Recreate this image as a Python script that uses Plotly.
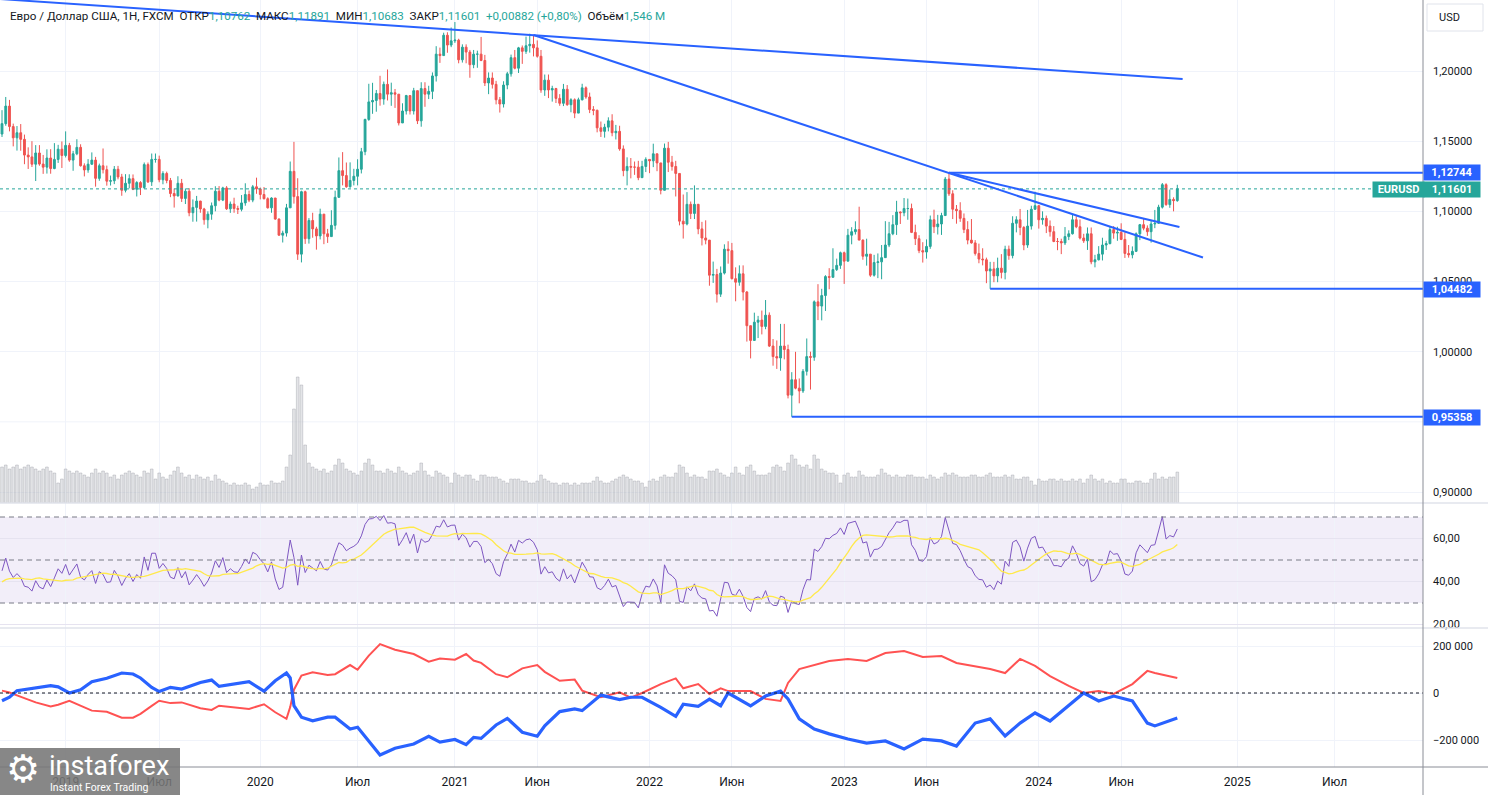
import numpy as np
import pandas as pd
import plotly.graph_objects as go
from plotly.subplots import make_subplots

# ---------------- DATA (weekly EURUSD, FXCM) ----------------
first_open = 1.1551

close_2018 = [1.1625,1.1750,1.1604,1.1524,1.1560,1.1513,1.1401,1.1388,1.1336,1.1416,1.1337,1.1315,1.1380,1.1305,1.1370,1.1443,1.1398]
high_2018  = [1.1721,1.1815,1.1794,1.1625,1.1608,1.1622,1.1547,1.1456,1.1500,1.1472,1.1472,1.1402,1.1442,1.1443,1.1486,1.1474,1.1498]
low_2018   = [1.1530,1.1610,1.1570,1.1463,1.1433,1.1432,1.1336,1.1302,1.1316,1.1216,1.1325,1.1267,1.1269,1.1268,1.1300,1.1345,1.1309]
vol_2018   = [1.8,1.9,1.7,1.8,1.9,1.7,1.8,1.9,1.8,1.7,1.6,1.7,1.8,1.6,1.5,1.0,1.2]

close_2019 = [1.1470,1.1365,1.1410,1.1456, 1.1325,1.1295,1.1336,1.1365, 1.1235,1.1325,1.1297,1.1215, 1.1218,1.1300,1.1245,1.1150,1.1200,
              1.1233,1.1157,1.1205,1.1170, 1.1333,1.1210,1.1370,1.1370, 1.1225,1.1270,1.1220,1.1127,1.1110, 1.1200,1.1092,1.1143,1.0990,
              1.1028,1.1073,1.1017,1.0940,1.0980, 1.1040,1.1143,1.1080,1.1167, 1.1018,1.1052,1.1020,1.1015, 1.1060,1.1120,1.1080,1.1175,1.1160]
high_2019  = [1.1570,1.1488,1.1431,1.1514, 1.1478,1.1342,1.1372,1.1420, 1.1388,1.1340,1.1448,1.1326, 1.1255,1.1323,1.1324,1.1267,1.1265,
              1.1264,1.1263,1.1215,1.1215, 1.1348,1.1348,1.1412,1.1412, 1.1397,1.1286,1.1283,1.1238,1.1162, 1.1250,1.1231,1.1163,1.1165,
              1.1085,1.1110,1.1075,1.1025,1.1000, 1.1063,1.1179,1.1180,1.1175, 1.1180,1.1070,1.1097,1.1040, 1.1116,1.1200,1.1148,1.1188,1.1240]
low_2019   = [1.1384,1.1353,1.1289,1.1400, 1.1319,1.1249,1.1275,1.1331, 1.1176,1.1218,1.1270,1.1183, 1.1184,1.1194,1.1228,1.1111,1.1135,
              1.1164,1.1151,1.1106,1.1116, 1.1160,1.1202,1.1181,1.1347, 1.1207,1.1193,1.1200,1.1101,1.1027, 1.1106,1.1067,1.1052,1.0965,
              1.0926,1.0927,1.0990,1.0905,1.0879, 1.0940,1.1000,1.1072,1.1073, 1.1010,1.0989,1.0990,1.0981, 1.1000,1.1040,1.1066,1.1065,1.1125]
vol_2019   = [1.7,1.6,1.5,1.6,1.5,1.4,1.3,1.5,1.7,1.5,1.6,1.5,1.3,1.4,1.2,1.4,1.5,1.6,1.5,1.4,1.3,1.6,1.5,1.7,1.2,1.5,
              1.3,1.2,1.4,1.6,1.8,1.5,1.3,1.4,1.2,1.4,1.3,1.2,1.3,1.1,1.4,1.2,1.1,1.0,0.9,1.0,0.9,0.9,1.0,0.9,0.7,0.8]

close_2020 = [1.1120,1.1090,1.1025,1.1095, 1.0945,1.0830,1.0845,1.1025, 1.1285,1.1105,1.0695,1.1140,1.0805, 1.0935,1.0875,1.0825,1.0980,
              1.0840,1.0820,1.0900,1.1100, 1.1290,1.1255,1.1175,1.1220,1.1250, 1.1300,1.1425,1.1655,1.1780, 1.1790,1.1840,1.1800,1.1905,1.1835,
              1.1845,1.1835,1.1630,1.1715, 1.1825,1.1715,1.1860,1.1645, 1.1875,1.1835,1.1855,1.1965,1.2120, 1.2110,1.2255,1.2185,1.2215]
high_2020  = [1.1170,1.1173,1.1100,1.1100, 1.1095,1.0950,1.0862,1.1053, 1.1355,1.1495,1.1236,1.1147,1.1147, 1.0952,1.0990,1.0890,1.1019,
              1.0980,1.0875,1.1008,1.1147, 1.1384,1.1422,1.1348,1.1349,1.1303, 1.1371,1.1452,1.1660,1.1909, 1.1916,1.1865,1.1966,1.1925,1.2011,
              1.1917,1.1872,1.1833,1.1770, 1.1830,1.1800,1.1880,1.1860, 1.1920,1.1920,1.1895,1.1990,1.2177, 1.2167,1.2273,1.2276,1.2310]
low_2020   = [1.1085,1.1085,1.1020,1.0990, 1.0940,1.0827,1.0778,1.0820, 1.1050,1.1055,1.0654,1.0636,1.0768, 1.0770,1.0812,1.0727,1.0800,
              1.0766,1.0775,1.0870,1.0870, 1.1095,1.1185,1.1168,1.1168,1.1185, 1.1185,1.1270,1.1400,1.1645, 1.1695,1.1710,1.1753,1.1760,1.1790,
              1.1752,1.1737,1.1612,1.1640, 1.1690,1.1690,1.1690,1.1622, 1.1603,1.1745,1.1800,1.1800,1.1925, 1.2058,1.2125,1.2130,1.2170]
vol_2020   = [1.0,0.9,0.9,1.1,1.0,1.0,1.1,1.8,2.4,4.7,6.3,5.9,2.9,2.0,1.8,1.7,1.6,1.7,1.5,1.6,1.9,2.2,2.0,1.7,1.6,1.5,
              1.4,1.6,2.0,2.2,1.9,1.6,1.6,1.5,1.7,1.6,1.5,1.8,1.6,1.5,1.4,1.5,1.6,2.0,1.6,1.4,1.3,1.6,1.5,1.4,1.3,1.0]

close_2021 = [1.2220,1.2080,1.2170,1.2135, 1.2045,1.2120,1.2120,1.2075, 1.1915,1.1950,1.1905,1.1795,1.1765, 1.1900,1.1980,1.2095,1.2020,
              1.2165,1.2140,1.2180,1.2190,1.2165, 1.2105,1.1865,1.1935,1.1865, 1.1875,1.1805,1.1770,1.1870, 1.1760,1.1795,1.1700,1.1795,1.1880,
              1.1815,1.1725,1.1720,1.1595, 1.1570,1.1600,1.1645,1.1560, 1.1570,1.1445,1.1290,1.1320,1.1315, 1.1315,1.1240,1.1320,1.1370]
high_2021  = [1.2349,1.2230,1.2190,1.2190, 1.2150,1.2150,1.2145,1.2243, 1.2115,1.1990,1.1990,1.1930,1.1815, 1.1927,1.1994,1.2117,1.2150,
              1.2172,1.2182,1.2245,1.2266,1.2255, 1.2218,1.2150,1.1975,1.1975, 1.1895,1.1880,1.1835,1.1908, 1.1900,1.1806,1.1805,1.1810,1.1909,
              1.1890,1.1846,1.1750,1.1725, 1.1640,1.1624,1.1670,1.1692, 1.1616,1.1610,1.1470,1.1385,1.1380, 1.1355,1.1360,1.1360,1.1385]
low_2021   = [1.2200,1.2055,1.2060,1.2055, 1.1952,1.2020,1.2023,1.2070, 1.1893,1.1835,1.1875,1.1762,1.1704, 1.1740,1.1870,1.1960,1.2012,
              1.1986,1.2051,1.2122,1.2131,1.2104, 1.2095,1.1845,1.1823,1.1807, 1.1782,1.1772,1.1752,1.1750, 1.1752,1.1706,1.1664,1.1700,1.1790,
              1.1802,1.1700,1.1685,1.1563, 1.1530,1.1525,1.1570,1.1535, 1.1512,1.1432,1.1250,1.1185,1.1235, 1.1260,1.1222,1.1265,1.1280]
vol_2021   = [1.5,1.4,1.3,1.4,1.4,1.2,1.1,1.4,1.4,1.3,1.3,1.3,1.2,1.1,1.0,1.2,1.2,1.2,1.1,1.1,1.0,1.0,1.1,1.4,1.2,1.1,
              1.0,1.0,0.9,1.0,1.0,0.9,1.0,0.9,1.0,1.0,1.0,1.1,1.3,1.1,1.0,1.0,1.1,1.2,1.3,1.4,1.3,1.2,1.1,1.1,1.0,0.8]

close_2022 = [1.1360,1.1410,1.1345,1.1150,1.1450, 1.1350,1.1320,1.1270,1.0930, 1.0910,1.1050,1.0985,1.1050, 1.0875,1.0810,1.0795,1.0545,
              1.0550,1.0410,1.0560,1.0730,1.0720, 1.0520,1.0495,1.0555,1.0425, 1.0185,1.0080,1.0210,1.0225, 1.0180,1.0260,1.0040,0.9965,0.9955,
              1.0040,1.0015,0.9690,0.9800, 0.9740,0.9720,0.9860,0.9965,0.9960, 1.0355,1.0325,1.0400,1.0535, 1.0530,1.0585,1.0615,1.0705]
high_2022  = [1.1365,1.1482,1.1370,1.1345,1.1483, 1.1495,1.1395,1.1360,1.1235, 1.1120,1.1137,1.1070,1.1185, 1.1053,1.0925,1.0936,1.0790,
              1.0642,1.0590,1.0607,1.0765,1.0787, 1.0775,1.0601,1.0615,1.0615, 1.0432,1.0185,1.0278,1.0255, 1.0293,1.0368,1.0280,1.0090,1.0080,
              1.0198,1.0198,1.0050,0.9854, 0.9999,0.9809,0.9876,1.0094,1.0000, 1.0365,1.0481,1.0448,1.0545, 1.0595,1.0737,1.0663,1.0713]
low_2022   = [1.1272,1.1315,1.1286,1.1121,1.1155, 1.1280,1.1290,1.1106,1.0900, 1.0806,1.0900,1.0945,1.0945, 1.0837,1.0757,1.0765,1.0470,
              1.0490,1.0350,1.0390,1.0550,1.0627, 1.0515,1.0359,1.0470,1.0365, 1.0072,0.9952,1.0095,1.0097, 1.0123,1.0160,1.0033,0.9900,0.9877,
              0.9864,0.9945,0.9667,0.9536, 0.9732,0.9632,0.9706,0.9830,0.9730, 0.9935,1.0225,1.0223,1.0290, 1.0445,1.0555,1.0575,1.0590]
vol_2022   = [1.1,1.2,1.1,1.3,1.4,1.3,1.3,1.5,1.9,1.8,1.5,1.3,1.4,1.3,1.3,1.2,1.6,1.6,1.7,1.5,1.4,1.3,1.5,1.8,1.5,1.4,
              1.8,1.9,1.6,1.4,1.4,1.4,1.5,1.8,1.9,1.8,1.6,2.0,2.4,2.2,1.9,1.8,1.9,1.7,2.4,2.2,1.7,1.6,1.5,1.5,1.4,1.0]

close_2023 = [1.0645,1.0830,1.0855,1.0870,1.0795, 1.0680,1.0695,1.0545,1.0635, 1.0640,1.0670,1.0760,1.0840, 1.0905,1.0995,1.0990,1.1020,
              1.1020,1.0850,1.0805,1.0720,1.0710, 1.0750,1.0940,1.0890,1.0910, 1.0970,1.1230,1.1125,1.1015,1.1005, 1.0950,1.0870,1.0795,1.0775,
              1.0700,1.0660,1.0655,1.0575, 1.0590,1.0540,1.0595,1.0565,1.0730, 1.0685,1.0915,1.0940,1.0885, 1.0760,1.0895,1.1015,1.1040]
high_2023  = [1.0713,1.0875,1.0887,1.0929,1.1033, 1.0800,1.0805,1.0695,1.0690, 1.0700,1.0760,1.0930,1.0925, 1.0973,1.1075,1.1000,1.1095,
              1.1091,1.1055,1.0905,1.0830,1.0780, 1.0800,1.0970,1.1012,1.0975, 1.0990,1.1245,1.1276,1.1150,1.1045, 1.1065,1.0985,1.0930,1.0945,
              1.0795,1.0770,1.0737,1.0670, 1.0640,1.0640,1.0670,1.0695,1.0755, 1.0756,1.0965,1.0965,1.1017, 1.0895,1.1010,1.1040,1.1140]
low_2023   = [1.0483,1.0650,1.0765,1.0835,1.0795, 1.0655,1.0613,1.0533,1.0535, 1.0524,1.0516,1.0713,1.0745, 1.0830,1.0832,1.0910,1.0965,
              1.0940,1.0845,1.0760,1.0702,1.0635, 1.0663,1.0733,1.0845,1.0835, 1.0832,1.0967,1.1110,1.0945,1.0912, 1.0925,1.0845,1.0765,1.0770,
              1.0685,1.0630,1.0615,1.0488, 1.0448,1.0495,1.0495,1.0522,1.0515, 1.0655,1.0665,1.0850,1.0830, 1.0723,1.0740,1.0870,1.1010]
vol_2023   = [1.4,1.5,1.3,1.3,1.6,1.4,1.3,1.3,1.3,1.4,1.7,1.5,1.4,1.3,1.4,1.3,1.3,1.4,1.4,1.3,1.3,1.3,1.2,1.4,1.3,1.2,
              1.3,1.5,1.4,1.5,1.4,1.3,1.3,1.3,1.4,1.4,1.3,1.3,1.4,1.5,1.3,1.3,1.3,1.4,1.3,1.4,1.2,1.2,1.3,1.3,1.1,0.9]

close_2024 = [1.0940,1.0950,1.0895,1.0855,1.0785, 1.0785,1.0775,1.0820,1.0840, 1.0940,1.0890,1.0810,1.0790, 1.0840,1.0640,1.0655,1.0695,1.0760,
              1.0770,1.0870,1.0845,1.0850, 1.0800,1.0700,1.0690,1.0715, 1.0840,1.0905,1.0880,1.0855,1.0910, 1.0915,1.1030,1.1190,1.1048,
              1.1085,1.10762,1.11601]
high_2024  = [1.1045,1.1000,1.0970,1.0935,1.0895, 1.0810,1.0805,1.0888,1.0865, 1.0980,1.0965,1.0942,1.0840, 1.0885,1.0885,1.0690,1.0752,1.0812,
              1.0790,1.0895,1.0895,1.0890, 1.0915,1.0850,1.0760,1.0750, 1.0850,1.0910,1.0950,1.0900,1.0935, 1.1010,1.1047,1.1202,1.1200,
              1.1155,1.1100,1.11891]
low_2024   = [1.0877,1.0905,1.0845,1.0820,1.0780, 1.0723,1.0695,1.0760,1.0795, 1.0835,1.0880,1.0800,1.0775, 1.0725,1.0623,1.0601,1.0650,1.0650,
              1.0725,1.0765,1.0805,1.0790, 1.0795,1.0668,1.0670,1.0665, 1.0710,1.0795,1.0865,1.0825,1.0777, 1.0880,1.0910,1.1020,1.1040,
              1.1025,1.1000,1.10683]
vol_2024   = [1.2,1.1,1.1,1.2,1.2,1.1,1.2,1.1,1.1,1.2,1.1,1.2,1.0,1.2,1.4,1.2,1.1,1.2,1.0,1.1,1.0,1.0,1.2,1.2,1.0,1.0,
              1.1,1.1,1.0,1.0,1.2,1.5,1.2,1.3,1.2,1.3,1.3,1.546]

# closes before the visible window (RSI warm-up only)
warmup_close = [1.2005,1.2030,1.2200,1.2220,1.2425,1.2460,1.2250,1.2410,1.2295,1.2315,1.2305,1.2285,1.2350,1.2325,
                1.2280,1.2330,1.2290,1.2130,1.1960,1.1940,1.1770,1.1650,1.1660,1.1770,1.1610,1.1655,1.1685,
                1.1745,1.1685,1.1720,1.1660,1.1565,1.1410,1.1437,1.1622,1.1601,1.1551]

year_starts = ["2018-09-10","2019-01-07","2020-01-06","2021-01-04","2022-01-03","2023-01-02","2024-01-01"]

# COT positions (thousands of contracts)
cot_dates = ["2018-09-10","2018-09-24","2018-10-08","2018-11-12","2018-12-10","2018-12-24","2019-01-14","2019-02-04","2019-02-25",
             "2019-03-25","2019-04-22","2019-05-13","2019-05-27","2019-06-17","2019-07-01","2019-07-22","2019-08-12","2019-09-16",
             "2019-10-07","2019-10-21","2019-12-16","2020-01-13","2020-02-03","2020-02-24","2020-03-02","2020-03-09","2020-03-23",
             "2020-04-13","2020-05-11","2020-05-25","2020-06-22","2020-07-06","2020-07-27","2020-08-17","2020-09-14","2020-10-19",
             "2020-11-16","2020-12-07","2021-01-04","2021-01-25","2021-02-08","2021-02-22","2021-03-22","2021-04-12","2021-05-10",
             "2021-06-07","2021-06-21","2021-07-19","2021-08-16","2021-08-30","2021-10-04","2021-11-08","2021-11-29","2021-12-20",
             "2022-01-24","2022-02-21","2022-03-07","2022-04-04","2022-04-25","2022-05-16","2022-05-30","2022-07-11","2022-08-08",
             "2022-09-05","2022-09-19","2022-10-10","2022-11-07","2022-12-05","2023-01-09","2023-02-13","2023-03-20","2023-04-24",
             "2023-05-29","2023-07-03","2023-07-31","2023-09-04","2023-10-02","2023-10-30","2023-11-27","2023-12-25","2024-01-22",
             "2024-02-26","2024-03-25","2024-04-22","2024-05-20","2024-06-24","2024-07-22","2024-08-05","2024-09-16"]
cot_blue = [-33,-18,10,20,31,26,0,14,48,63,85,81,64,24,6,24,17,45,55,28,48,8,52,85,64,-54,-103,-118,-103,-103,-153,-146,-203,-264,
            -235,-217,-184,-209,-198,-220,-189,-193,-136,-108,-167,-184,-140,-79,-68,-75,-9,-28,-18,-18,-61,-99,-48,-57,-26,-54,
            0,-55,-13,8,-25,-110,-153,-174,-196,-213,-204,-238,-196,-204,-226,-128,-110,-183,-128,-85,-119,-55,0,-34,-13,-34,-128,-140,-106]
cot_red = [10,2,-10,-40,-57,-50,-33,-55,-75,-80,-105,-105,-89,-55,-33,-43,-40,-65,-72,-54,-68,-48,-82,-110,-60,14,74,88,77,80,119,99,
           159,208,184,166,133,147,142,166,138,128,80,67,105,119,90,52,57,10,-18,3,-20,0,38,62,20,38,-4,20,
           8,8,-25,-34,43,102,119,136,145,136,170,179,153,157,128,115,102,85,145,115,72,30,0,8,-4,38,94,85,64]

# Drawn levels / trend lines
level_prices = [1.12744, 1.04482, 0.95358]
level_starts = ["2023-07-17", "2023-10-02", "2022-09-26"]
trend_dates = [["2018-09-06", "2024-09-26"], ["2021-05-31", "2024-11-03"], ["2023-07-17", "2024-09-20"]]
trend_prices = [[1.2513, 1.1943], [1.2257, 1.0671], [1.12744, 1.0888]]
last_price = 1.11601

tick_dates = ["2019-01-07","2019-07-01","2020-01-06","2020-07-06","2021-01-04","2021-06-07","2022-01-03","2022-06-06",
              "2023-01-02","2023-06-05","2024-01-01","2024-06-03","2025-01-06","2025-07-07"]
tick_labels = ["2019","Июл","2020","Июл","2021","Июн","2022","Июн","2023","Июн","2024","Июн","2025","Июл"]

# ---------------- assemble ----------------
closes, highs, lows, vols, dates = [], [], [], [], []
blocks = [(close_2018, high_2018, low_2018, vol_2018), (close_2019, high_2019, low_2019, vol_2019),
          (close_2020, high_2020, low_2020, vol_2020), (close_2021, high_2021, low_2021, vol_2021),
          (close_2022, high_2022, low_2022, vol_2022), (close_2023, high_2023, low_2023, vol_2023),
          (close_2024, high_2024, low_2024, vol_2024)]
for start, (c, h, l, v) in zip(year_starts, blocks):
    n = min(len(c), len(h), len(l))
    dates += list(pd.date_range(start, periods=n, freq="7D"))
    closes += c[:n]; highs += h[:n]; lows += l[:n]
    vv = list(v[:n]) + [v[-1]] * max(0, n - len(v))
    vols += vv
opens = [first_open] + closes[:-1]
highs = [max(h, o, c) for h, o, c in zip(highs, opens, closes)]
lows = [min(l, o, c) for l, o, c in zip(lows, opens, closes)]

# RSI(14) (Wilder) and its 14-period SMA
allc = np.array(warmup_close + closes)
d = np.diff(allc)
g = np.where(d > 0, d, 0.0); ls = np.where(d < 0, -d, 0.0)
N = 14
ag = np.full(len(allc), np.nan); al = np.full(len(allc), np.nan)
ag[N] = g[:N].mean(); al[N] = ls[:N].mean()
for i in range(N + 1, len(allc)):
    ag[i] = (ag[i - 1] * (N - 1) + g[i - 1]) / N
    al[i] = (al[i - 1] * (N - 1) + ls[i - 1]) / N
rsi_all = 100 - 100 / (1 + ag / al)
rsi_ma_all = pd.Series(rsi_all).rolling(14).mean().values
rsi = rsi_all[-len(closes):]
rsi_ma = rsi_ma_all[-len(closes):]

# ---------------- geometry ----------------
W, H = 1488, 795
PW = 1423          # plot width (price scale on the right)
PH = 767           # plot height (time scale at the bottom)
t0 = pd.Timestamp("2018-09-10")
px_per_day = 3.743 / 7.0
x_start = t0 - pd.Timedelta(days=2 / px_per_day)
x_end = x_start + pd.Timedelta(days=PW / px_per_day)

def py(y):  # pixel-y -> paper-y
    return (PH - y) / PH

fig = make_subplots(rows=3, cols=1, shared_xaxes=True, vertical_spacing=0, row_heights=[503, 125, 139])

UP, DN, BLUE = "#26A69A", "#EF5350", "#2962FF"

# volume (overlay axis on the price pane)
fig.add_trace(go.Bar(x=dates, y=vols, width=5 * 86400000, marker=dict(color="rgba(205,207,214,0.55)",
                     line=dict(color="rgba(150,153,162,0.75)", width=0.5)), xaxis="x", yaxis="y4", hoverinfo="skip"))

fig.add_trace(go.Candlestick(x=dates, open=opens, high=highs, low=lows, close=closes,
                             increasing=dict(line=dict(color=UP, width=1), fillcolor=UP),
                             decreasing=dict(line=dict(color=DN, width=1), fillcolor=DN),
                             whiskerwidth=0, hoverinfo="skip"), row=1, col=1)

# current price dotted line
fig.add_trace(go.Scatter(x=[x_start, x_end], y=[last_price, last_price], mode="lines",
                         line=dict(color=UP, width=1, dash="dot"), hoverinfo="skip"), row=1, col=1)
# levels
for p, s in zip(level_prices, level_starts):
    fig.add_trace(go.Scatter(x=[pd.Timestamp(s), x_end], y=[p, p], mode="lines",
                             line=dict(color=BLUE, width=2), hoverinfo="skip"), row=1, col=1)
for dd, pp in zip(trend_dates, trend_prices):
    fig.add_trace(go.Scatter(x=pd.to_datetime(dd), y=pp, mode="lines",
                             line=dict(color=BLUE, width=2), hoverinfo="skip"), row=1, col=1)

# RSI
fig.add_trace(go.Scatter(x=dates, y=rsi, mode="lines", line=dict(color="#7E57C2", width=1), hoverinfo="skip"), row=2, col=1)
fig.add_trace(go.Scatter(x=dates, y=rsi_ma, mode="lines", line=dict(color="#FFE94A", width=1.3), hoverinfo="skip"), row=2, col=1)

# COT
cd = pd.to_datetime(cot_dates)
fig.add_trace(go.Scatter(x=cd, y=[v * 1000 for v in cot_red], mode="lines", line=dict(color="#FF5252", width=2), hoverinfo="skip"), row=3, col=1)
fig.add_trace(go.Scatter(x=cd, y=[v * 1000 for v in cot_blue], mode="lines", line=dict(color=BLUE, width=3.2), hoverinfo="skip"), row=3, col=1)

FONT = "Roboto, Arial, sans-serif"
GRID = "#F0F3FA"
TXT = "#131722"

dom_price = [py(503), 1.0]
dom_rsi = [py(628), py(503)]
dom_cot = [0.0, py(628)]

xcommon = dict(range=[x_start, x_end], tickvals=pd.to_datetime(tick_dates), ticktext=tick_labels,
               showgrid=True, gridcolor=GRID, gridwidth=1, zeroline=False, showline=False, ticks="",
               rangeslider=dict(visible=False), fixedrange=True)
AXF = dict(family=FONT, size=11, color=TXT)
fig.update_layout(
    xaxis=dict(**xcommon, showticklabels=False),
    xaxis2=dict(**xcommon, showticklabels=False),
    xaxis3=dict(**xcommon, showticklabels=True, tickfont=dict(family=FONT, size=12, color=TXT), ticklabelstandoff=6),
    yaxis=dict(domain=dom_price, side="right", range=[0.90 - 11 / 1403, 1.20 + 71 / 1403],
               tickvals=[0.90, 1.00, 1.05, 1.10, 1.15, 1.20],
               ticktext=["0,90000", "1,00000", "1,05000", "1,10000", "1,15000", "1,20000"],
               showgrid=True, gridcolor=GRID, zeroline=False, ticks="", ticklabelstandoff=9,
               tickfont=AXF, fixedrange=True),
    yaxis4=dict(overlaying="y", anchor="x", range=[0, 503 * 0.05], visible=False, fixedrange=True),
    yaxis2=dict(domain=dom_rsi, side="right", range=[30 - 25 / 2.15, 70 + 14 / 2.15], tickvals=[20, 40, 60],
                ticktext=["20,00", "40,00", "60,00"], showgrid=True, gridcolor="#E6E3F0", zeroline=False, ticks="",
                ticklabelstandoff=9, tickfont=AXF, fixedrange=True),
    yaxis3=dict(domain=dom_cot, side="right", range=[-200000 - 27 / 0.000235, 200000 + 18 / 0.000235],
                tickvals=[-200000, 0, 200000], ticktext=["−200 000", "0", "200 000"], showgrid=True, gridcolor=GRID,
                zeroline=False, ticks="", ticklabelstandoff=9, tickfont=AXF, fixedrange=True),
    width=W, height=H, margin=dict(l=0, r=W - PW, t=0, b=H - PH),
    paper_bgcolor="white", plot_bgcolor="white", showlegend=False, boxgap=0.3, bargap=0.3,
    font=dict(family=FONT, size=12, color=TXT),
)

shapes = []
# 0.95 price gridline (its label sits under the 0,95358 marker)
shapes.append(dict(type="line", xref="x domain", yref="y", x0=0, x1=1, y0=0.95, y1=0.95,
                   line=dict(color=GRID, width=1), layer="below"))
# RSI band & guide lines
shapes.append(dict(type="rect", xref="x2 domain", yref="y2", x0=0, x1=1, y0=30, y1=70,
                   fillcolor="rgba(126,87,194,0.10)", line=dict(width=0), layer="below"))
for lv in [70, 50, 30]:
    shapes.append(dict(type="line", xref="x2 domain", yref="y2", x0=0, x1=1, y0=lv, y1=lv,
                       line=dict(color="#787B86", width=1, dash="5px,4px")))
shapes.append(dict(type="line", xref="x3 domain", yref="y3", x0=0, x1=1, y0=0, y1=0,
                   line=dict(color="#131722", width=1, dash="dot")))
# pane separators & scale borders
for yy in [503, 628]:
    shapes.append(dict(type="line", xref="paper", yref="paper", x0=0, x1=W / PW, y0=py(yy), y1=py(yy),
                       line=dict(color="#E0E3EB", width=1.5)))
shapes.append(dict(type="line", xref="paper", yref="paper", x0=1, x1=1, y0=py(H), y1=1,
                   line=dict(color="#8A8D96", width=1)))
shapes.append(dict(type="line", xref="paper", yref="paper", x0=0, x1=W / PW, y0=0, y1=0,
                   line=dict(color="#8A8D96", width=1)))
# logo box
shapes.append(dict(type="rect", xref="paper", yref="paper", x0=0, x1=180 / PW, y0=py(H), y1=py(748),
                   fillcolor="rgba(118,118,118,0.88)", line=dict(width=0), layer="above"))
# USD box
shapes.append(dict(type="rect", xref="paper", yref="paper", x0=1427 / PW, x1=1483 / PW, y0=py(31), y1=py(4),
                   fillcolor="white", line=dict(color="#E0E3EB", width=1)))
fig.update_layout(shapes=shapes)

ann = []
G = UP
hdr = ("Евро / Доллар США, 1Н, FXCM&nbsp;&nbsp;ОТКР<span style='color:%s'>1,10762</span>&nbsp;&nbsp;МАКС<span style='color:%s'>1,11891</span>"
       "&nbsp;&nbsp;МИН<span style='color:%s'>1,10683</span>&nbsp;&nbsp;ЗАКР<span style='color:%s'>1,11601</span>&nbsp;&nbsp;"
       "<span style='color:%s'>+0,00882 (+0,80%%)</span>&nbsp;&nbsp;Объём<span style='color:%s'>1,546 M</span>") % (G, G, G, G, G, G)
ann.append(dict(text=hdr, xref="paper", yref="paper", x=8 / PW, y=py(16), xanchor="left", yanchor="middle",
                showarrow=False, font=dict(family=FONT, size=11.6, color=TXT)))

def scale_box(text, yc, color, x0=1423, w=56):
    return dict(text="<b>%s</b>" % text, xref="paper", yref="paper", x=x0 / PW, y=py(yc), xanchor="left", yanchor="middle",
                showarrow=False, bgcolor=color, width=w, height=15, align="center",
                font=dict(family=FONT, size=11, color="white"), borderpad=0)

ann.append(scale_box("1,12744", 172, BLUE))
ann.append(scale_box("1,11601", 189.5, UP))
ann.append(scale_box("EURUSD", 189.5, UP, x0=1372, w=51))
ann.append(scale_box("1,04482", 289, BLUE))
ann.append(scale_box("0,95358", 417, BLUE))
ann.append(dict(text="USD", xref="paper", yref="paper", x=1437 / PW, y=py(17.5), xanchor="left", yanchor="middle",
                showarrow=False, font=dict(family=FONT, size=11, color=TXT)))
# logo
ann.append(dict(text="⚙", xref="paper", yref="paper", x=4 / PW, y=py(769), xanchor="left", yanchor="middle",
                showarrow=False, font=dict(family="DejaVu Sans", size=38, color="white")))
ann.append(dict(text="instaforex", xref="paper", yref="paper", x=47 / PW, y=py(766), xanchor="left", yanchor="middle",
                showarrow=False, font=dict(family="Roboto, Arial", size=27, color="white")))
ann.append(dict(text="Instant Forex Trading", xref="paper", yref="paper", x=48 / PW, y=py(787), xanchor="left", yanchor="middle",
                showarrow=False, font=dict(family="Roboto, Arial", size=10.5, color="white")))
fig.update_layout(annotations=ann)

fig.write_html("out.html", config={"displayModeBar": False, "staticPlot": True},
               post_script="document.body.style.margin='0';document.body.style.overflow='hidden';")
